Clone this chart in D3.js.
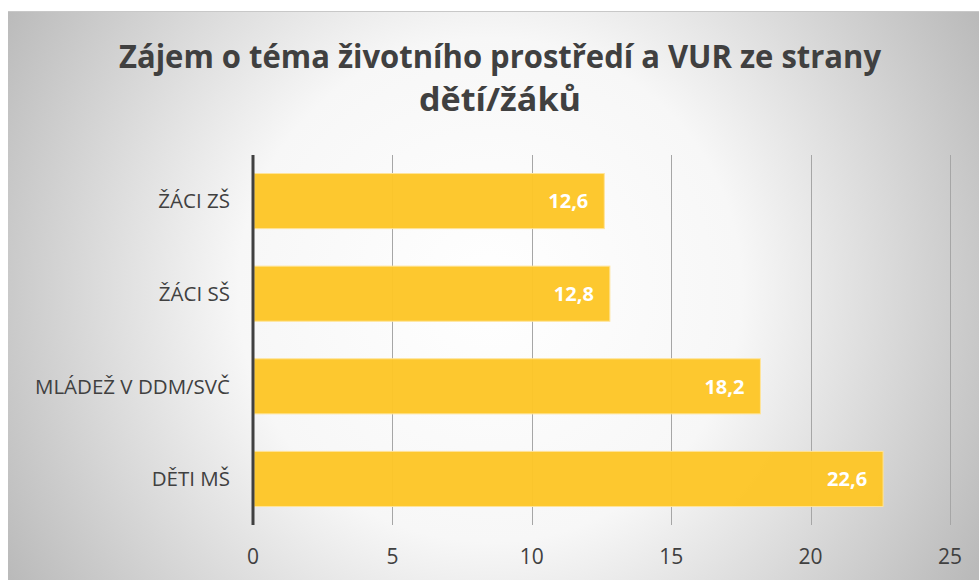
<!DOCTYPE html>
<html>
<head>
<meta charset="utf-8">
<script src="https://cdn.jsdelivr.net/npm/d3@7"></script>
<style>
  body { margin: 0; background: #fff; }
  svg { display: block; }
</style>
</head>
<body>
<script>
(function(){

  //chart data
  var categories = ["ŽÁCI ZŠ", "ŽÁCI SŠ", "MLÁDEŽ V DDM/SVČ", "DĚTI MŠ"];
  var values = [12.6, 12.8, 18.2, 22.6];
  var ticks = [0, 5, 10, 15, 20, 25];
  var titleLines = ["Zájem o téma životního prostředí a VUR ze strany", "dětí/žáků"];

  var width = 979,
      height = 580;

  var svg = d3.select("body")
    .append("svg")
    .attr("width", width)
    .attr("height", height);

  //background gradient
  var defs = svg.append("defs");
  var grad = defs.append("radialGradient")
    .attr("id", "bg")
    .attr("gradientUnits", "userSpaceOnUse")
    .attr("cx", 490).attr("cy", 290)
    .attr("r", 560);
  grad.append("stop").attr("offset", "0%").attr("stop-color", "#ffffff");
  grad.append("stop").attr("offset", "45%").attr("stop-color", "#f7f7f7");
  grad.append("stop").attr("offset", "100%").attr("stop-color", "#bababa");

  svg.append("rect")
    .attr("x", 8).attr("y", 11)
    .attr("width", width - 8).attr("height", height - 11)
    .attr("fill", "url(#bg)");
  svg.append("line")
    .attr("x1", 8).attr("x2", width).attr("y1", 11.5).attr("y2", 11.5)
    .attr("stroke", "#c8c8c8");

  //title
  var title = svg.append("g")
    .attr("font-family", "'Open Sans', sans-serif")
    .attr("font-weight", "bold")
    .attr("font-size", 32)
    .attr("fill", "#404040")
    .attr("text-anchor", "middle");
  title.append("text")
    .attr("x", 500).attr("y", 68)
    .attr("textLength", 762)
    .attr("lengthAdjust", "spacingAndGlyphs")
    .text(titleLines[0]);
  title.append("text")
    .attr("x", 500).attr("y", 111)
    .attr("textLength", 162)
    .attr("lengthAdjust", "spacingAndGlyphs")
    .text(titleLines[1]);

  //scales
  var x = d3.scaleLinear()
    .domain([0, 25])
    .range([253, 950]);

  var y = d3.scaleBand()
    .domain(categories)
    .range([155, 525])
    .paddingInner(0.405)
    .paddingOuter(0.2);

  //gridlines
  svg.append("g")
    .selectAll("line")
    .data(ticks.slice(1))
    .enter()
    .append("line")
    .attr("x1", function(d){ return Math.round(x(d)) + 0.5; })
    .attr("x2", function(d){ return Math.round(x(d)) + 0.5; })
    .attr("y1", 155).attr("y2", 525)
    .attr("stroke", "#a6a6a6")
    .attr("stroke-width", 1);

  //bars
  svg.append("g")
    .selectAll("rect")
    .data(values)
    .enter()
    .append("rect")
    .attr("x", x(0) + 1)
    .attr("y", function(d, i){ return y(categories[i]); })
    .attr("width", function(d){ return x(d) - x(0) - 1; })
    .attr("height", y.bandwidth())
    .attr("fill", "#fdc627")
    .attr("fill-opacity", 0.96)
    .attr("stroke", "#ffe49a")
    .attr("stroke-width", 1);

  //value labels
  svg.append("g")
    .selectAll("text")
    .data(values)
    .enter()
    .append("text")
    .attr("x", function(d){ return x(d) - 16; })
    .attr("y", function(d, i){ return y(categories[i]) + y.bandwidth() / 2; })
    .attr("dy", "0.36em")
    .attr("text-anchor", "end")
    .attr("font-family", "'Open Sans', sans-serif")
    .attr("font-weight", "bold")
    .attr("font-size", 20)
    .attr("fill", "#ffffff")
    .text(function(d){ return d3.format(".1f")(d).replace(".", ","); });

  //vertical axis line
  svg.append("line")
    .attr("x1", 253).attr("x2", 253)
    .attr("y1", 155).attr("y2", 525)
    .attr("stroke", "#404040")
    .attr("stroke-width", 3);

  //category labels
  svg.append("g")
    .selectAll("text")
    .data(categories)
    .enter()
    .append("text")
    .attr("x", 230)
    .attr("y", function(d){ return y(d) + y.bandwidth() / 2; })
    .attr("dy", "0.36em")
    .attr("text-anchor", "end")
    .attr("font-family", "'Open Sans', sans-serif")
    .attr("font-size", 20.5)
    .attr("fill", "#404040")
    .text(function(d){ return d; });

  //tick labels
  svg.append("g")
    .selectAll("text")
    .data(ticks)
    .enter()
    .append("text")
    .attr("x", function(d){ return x(d); })
    .attr("y", 564)
    .attr("text-anchor", "middle")
    .attr("font-family", "'Open Sans', sans-serif")
    .attr("font-size", 21)
    .attr("fill", "#404040")
    .text(function(d){ return d; });
})();
</script>
</body>
</html>
